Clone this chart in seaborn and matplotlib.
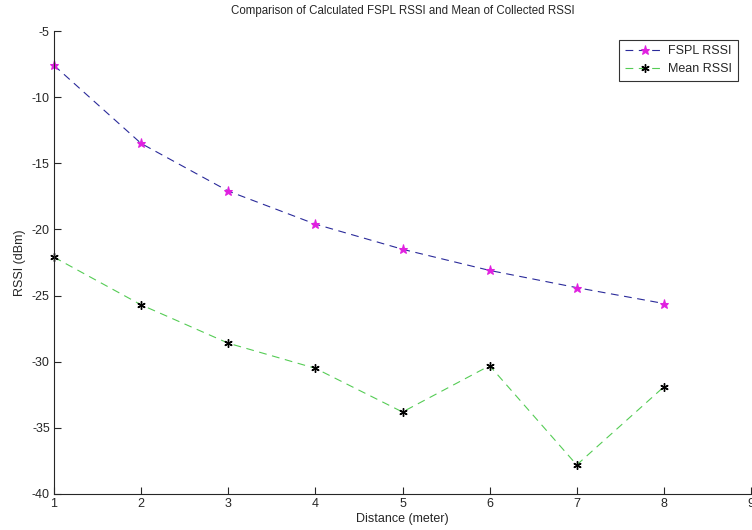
import matplotlib
matplotlib.use('Agg')
import matplotlib.pyplot as plt
import pandas as pd
import seaborn as sns

# values
distance = [1, 2, 3, 4, 5, 6, 7, 8]
fspl_rssi = [-7.6, -13.5, -17.1, -19.6, -21.5, -23.1, -24.4, -25.6]
mean_rssi = [-22.1, -25.7, -28.6, -30.5, -33.8, -30.3, -37.8, -31.9]

x_ticks = [1, 2, 3, 4, 5, 6, 7, 8, 9]
y_ticks = [-40, -35, -30, -25, -20, -15, -10, -5]

sns.set_style('ticks')
plt.rcParams['font.family'] = ['Liberation Sans', 'DejaVu Sans']
plt.rcParams['axes.unicode_minus'] = False

df = pd.DataFrame({'distance': distance, 'FSPL RSSI': fspl_rssi, 'Mean RSSI': mean_rssi})

fig = plt.figure(figsize=(7.52, 5.30), dpi=100)
ax = fig.add_axes([54 / 752, 1 - 494 / 530, 697 / 752, 463 / 530])

dash = (0, (7, 5))
sns.lineplot(data=df, x='distance', y='FSPL RSSI', ax=ax, label='FSPL RSSI',
             color='#2a2a9a', linestyle=dash, linewidth=0.8, clip_on=False,
             marker='*', markersize=6.5, markerfacecolor='#e020e0', markeredgecolor='#e020e0')
sns.lineplot(data=df, x='distance', y='Mean RSSI', ax=ax, label='Mean RSSI',
             color='#55cc55', linestyle=dash, linewidth=0.8, clip_on=False,
             marker=(6, 2, 0), markersize=6, markeredgewidth=1.0,
             markerfacecolor='black', markeredgecolor='black')

ax.set_xlim(1, 9)
ax.set_ylim(-40, -5)
ax.set_xticks(x_ticks)
ax.set_yticks(y_ticks)
ax.tick_params(direction='in', length=5, width=0.8, labelsize=9, pad=3)
for s in ['top', 'right']:
    ax.spines[s].set_visible(False)
for s in ['left', 'bottom']:
    ax.spines[s].set_linewidth(0.8)

ax.set_xlabel('Distance (meter)', fontsize=9, labelpad=2)
ax.set_ylabel('RSSI (dBm)', fontsize=9, labelpad=4)
ax.set_title('Comparison of Calculated FSPL RSSI and Mean of Collected RSSI', fontsize=8.3, pad=12)

leg = ax.legend(loc='upper right', bbox_to_anchor=(0.99, 0.995), fontsize=9,
                frameon=True, fancybox=False, edgecolor='black', handlelength=3.2,
                borderpad=0.45, labelspacing=0.5, handletextpad=0.3)
leg.get_frame().set_linewidth(0.8)

fig.savefig('out.png', dpi=100)
